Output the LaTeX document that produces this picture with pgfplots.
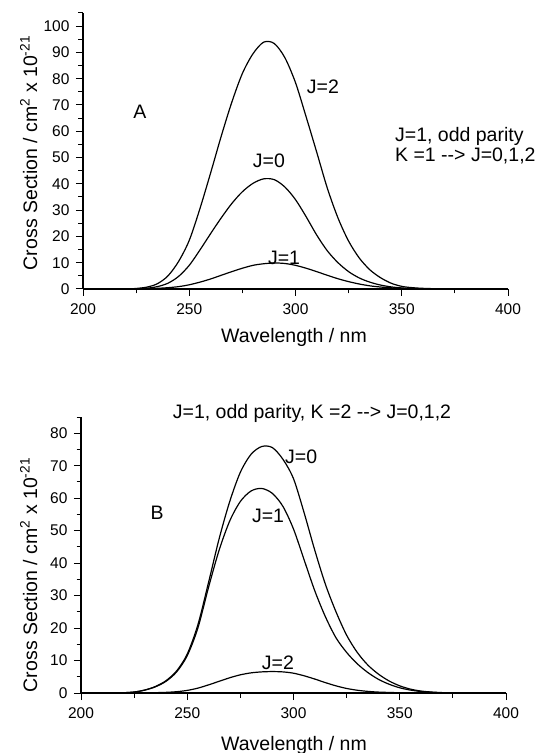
\documentclass[border=0pt]{standalone}
\usepackage{fontspec}
\setmainfont{Liberation Sans}
\usepackage{pgfplots}
\pgfplotsset{compat=1.18}
\newcommand\lab{\fontsize{19.5bp}{23bp}\selectfont}
\newcommand\tk{\fontsize{15.5bp}{18bp}\selectfont}

\pgfplotstableread{
x y
221 0
225 0.2
230 0.7
235 2.0
240 5.0
245 10.5
250 18.5
255 30.5
260 44
265 58
270 71
275 82
280 89.5
285 93.9
290 93.4
295 88
300 78.5
305 65.5
310 52
315 38.3
320 27
325 18.2
330 11.8
335 7.3
340 4.3
345 2.2
350 1.0
355 0.5
360 0.25
365 0.12
370 0.05
378 0
}\AJtwo

\pgfplotstableread{
x y
221 0
225 0.1
230 0.3
235 0.9
240 2.2
245 4.8
250 9
255 14.8
260 21
265 27
270 32.5
275 37
280 40.2
285 41.9
290 41.6
295 38.8
300 34
305 27.5
310 20.5
315 14.5
320 10
325 6.6
330 4.2
335 2.6
340 1.5
345 0.8
350 0.4
355 0.2
360 0.1
370 0.02
378 0
}\AJzero

\pgfplotstableread{
x y
222 0
230 0.1
235 0.25
240 0.5
245 0.9
250 1.6
255 2.6
260 3.8
265 5.2
270 6.6
275 7.9
280 9.0
285 9.6
290 9.9
295 9.7
300 9.0
305 7.9
310 6.6
315 5.2
320 3.9
325 2.8
330 1.9
335 1.2
340 0.75
345 0.45
350 0.25
360 0.08
370 0.02
378 0
}\AJone

\pgfplotstableread{
x y
218 0
225 0.3
230 0.9
235 2.0
240 3.8
245 6.8
250 12
255 21
260 34
265 47.5
270 59
275 68
280 73.5
285 75.9
290 75.6
295 72
300 66
305 55.5
310 44
315 33.5
320 25
325 17.8
330 12.5
335 8.6
340 5.8
345 3.7
350 2.2
355 1.2
360 0.6
365 0.3
370 0.12
378 0.04
386 0
}\BJzero

\pgfplotstableread{
x y
218 0
225 0.3
230 0.9
235 1.9
240 3.6
245 6.5
250 11.5
255 20
260 32.5
265 44
270 53
275 59
280 62.2
285 63
290 61.5
295 57.5
300 50.5
305 41
310 31.5
315 23.5
320 17
325 12.5
330 9.0
335 6.3
340 4.2
345 2.7
350 1.6
355 0.9
360 0.45
365 0.2
370 0.08
378 0.02
386 0
}\BJone

\pgfplotstableread{
x y
220 0
230 0.05
235 0.1
240 0.2
245 0.4
250 0.8
255 1.5
260 2.5
265 3.6
270 4.7
275 5.6
280 6.2
285 6.5
290 6.6
295 6.5
300 6.1
305 5.3
310 4.3
315 3.2
320 2.2
325 1.4
330 0.85
335 0.5
340 0.28
350 0.08
360 0.02
380 0
}\BJtwo

\pgfplotsset{panel/.style={
  scale only axis, width=425bp, height=276bp, anchor=south west,
  xmin=200, xmax=400, axis x line=bottom, axis y line=left,
  axis line style={-, line width=1.1bp},
  xtick={200,250,...,400}, minor xtick={225,275,325,375},
  tick align=outside, major tick length=7bp, minor tick length=4.5bp,
  tick style={line width=1bp, black},
  tick label style={font=\tk}, /pgf/number format/assume math mode=true,
  xticklabel style={yshift=-4bp},
  yticklabel style={xshift=-3bp},
  clip=false,
}, crv/.style={black, line width=1.2bp, mark=none, smooth, tension=0.5}}

\begin{document}
\begin{tikzpicture}
\begin{axis}[panel, at={(83bp,464bp)}, ymin=0, ymax=105, ytick={0,10,...,100}, minor ytick={5,15,...,105}]
\addplot[crv] table {\AJtwo};
\addplot[crv] table {\AJzero};
\addplot[crv] table {\AJone};
\node[font=\lab] at (axis cs:226.8,67.3) {A};
\node[font=\lab] at (axis cs:312.9,76.8) {J=2};
\node[font=\lab] at (axis cs:287.5,48.7) {J=0};
\node[font=\lab] at (axis cs:294.6,11.8) {J=1};
\node[font=\lab, anchor=west, inner sep=0pt] at (axis cs:346.8,58.2) {J=1, odd parity};
\node[font=\lab, anchor=west, inner sep=0pt] at (axis cs:346.8,50.6) {K =1 {-}{-}> J=0,1,2};
\end{axis}
\begin{axis}[panel, at={(81bp,60bp)}, ymin=0, ymax=85, ytick={0,10,...,80}, minor ytick={5,15,...,85}]
\addplot[crv] table {\BJzero};
\addplot[crv] table {\BJone};
\addplot[crv] table {\BJtwo};
\node[font=\lab] at (axis cs:235.8,55.4) {B};
\node[font=\lab, anchor=west, inner sep=0pt] at (axis cs:296,72.6) {J=0};
\node[font=\lab] at (axis cs:288,54.5) {J=1};
\node[font=\lab] at (axis cs:292.7,9.2) {J=2};
\node[font=\lab] at (axis cs:308.7,86.2) {J=1, odd parity, K =2 {-}{-}> J=0,1,2};
\end{axis}
\node[font=\lab, anchor=base] at (294bp,410bp) {Wavelength / nm};
\node[font=\lab, anchor=base] at (294bp,3bp) {Wavelength / nm};
\node[font=\lab, anchor=base, rotate=90] at (37bp,600bp) {Cross Section / cm\textsuperscript{2} x 10\textsuperscript{-21}};
\node[font=\lab, anchor=base, rotate=90] at (37bp,178bp) {Cross Section / cm\textsuperscript{2} x 10\textsuperscript{-21}};
\pgfresetboundingbox
\path[use as bounding box] (0,0) rectangle (539bp,753bp);
\end{tikzpicture}
\end{document}
